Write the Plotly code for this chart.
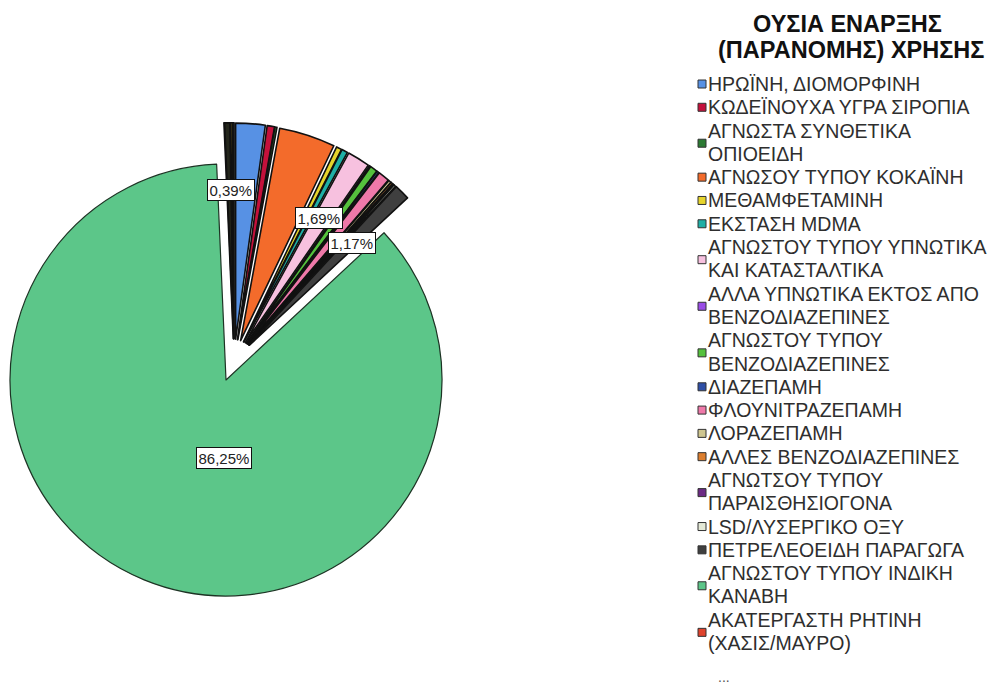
import math
import plotly.graph_objects as go

# ---------------- data ----------------
categories = [
    "ΗΡΩΪΝΗ, ΔΙΟΜΟΡΦΙΝΗ",
    "ΚΩΔΕΪΝΟΥΧΑ ΥΓΡΑ ΣΙΡΟΠΙΑ",
    "ΑΓΝΩΣΤΑ ΣΥΝΘΕΤΙΚΑ ΟΠΙΟΕΙΔΗ",
    "ΑΓΝΩΣΟΥ ΤΥΠΟΥ ΚΟΚΑΪΝΗ",
    "ΜΕΘΑΜΦΕΤΑΜΙΝΗ",
    "ΕΚΣΤΑΣΗ MDMA",
    "ΑΓΝΩΣΤΟΥ ΤΥΠΟΥ ΥΠΝΩΤΙΚΑ ΚΑΙ ΚΑΤΑΣΤΑΛΤΙΚΑ",
    "ΑΛΛΑ ΥΠΝΩΤΙΚΑ ΕΚΤΟΣ ΑΠΟ ΒΕΝΖΟΔΙΑΖΕΠΙΝΕΣ",
    "ΑΓΝΩΣΤΟΥ ΤΥΠΟΥ ΒΕΝΖΟΔΙΑΖΕΠΙΝΕΣ",
    "ΔΙΑΖΕΠΑΜΗ",
    "ΦΛΟΥΝΙΤΡΑΖΕΠΑΜΗ",
    "ΛΟΡΑΖΕΠΑΜΗ",
    "ΑΛΛΕΣ ΒΕΝΖΟΔΙΑΖΕΠΙΝΕΣ",
    "ΑΓΝΩΤΣΟΥ ΤΥΠΟΥ ΠΑΡΑΙΣΘΗΣΙΟΓΟΝΑ",
    "LSD/ΛΥΣΕΡΓΙΚΟ ΟΞΥ",
    "ΠΕΤΡΕΛΕΟΕΙΔΗ ΠΑΡΑΓΩΓΑ",
    "ΑΓΝΩΣΤΟΥ ΤΥΠΟΥ ΙΝΔΙΚΗ ΚΑΝΑΒΗ",
    "ΑΚΑΤΕΡΓΑΣΤΗ ΡΗΤΙΝΗ (ΧΑΣΙΣ/ΜΑΥΡΟ)",
    "ΛΟΙΠΕΣ ΟΥΣΙΕΣ (α)",   # categories hidden behind the legend's "..."
    "ΛΟΙΠΕΣ ΟΥΣΙΕΣ (β)",
    "ΛΟΙΠΕΣ ΟΥΣΙΕΣ (γ)",
]

percent = [2.20, 0.55, 0.15, 4.20, 0.40, 0.45, 1.69, 0.10, 0.55, 0.15,
           0.85, 0.20, 0.15, 0.10, 0.15, 1.17, 86.25, 0.03, 0.39, 0.14, 0.13]

colors = ["#5791e4", "#c4113b", "#2c7a33", "#f36b2b", "#e6d42c", "#1fafa6",
          "#f7c1df", "#9a4ce6", "#55c13d", "#2f4fa6", "#ef79a9", "#cfc68f",
          "#dc7e2e", "#6c2a84", "#e4e9d6", "#3f3f3f", "#5cc689", "#df432d",
          "#24261c", "#e2c42a", "#27322a"]

legend_wrap = [
    ["ΗΡΩΪΝΗ, ΔΙΟΜΟΡΦΙΝΗ"],
    ["ΚΩΔΕΪΝΟΥΧΑ ΥΓΡΑ ΣΙΡΟΠΙΑ"],
    ["ΑΓΝΩΣΤΑ ΣΥΝΘΕΤΙΚΑ", "ΟΠΙΟΕΙΔΗ"],
    ["ΑΓΝΩΣΟΥ ΤΥΠΟΥ ΚΟΚΑΪΝΗ"],
    ["ΜΕΘΑΜΦΕΤΑΜΙΝΗ"],
    ["ΕΚΣΤΑΣΗ MDMA"],
    ["ΑΓΝΩΣΤΟΥ ΤΥΠΟΥ ΥΠΝΩΤΙΚΑ", "ΚΑΙ ΚΑΤΑΣΤΑΛΤΙΚΑ"],
    ["ΑΛΛΑ ΥΠΝΩΤΙΚΑ ΕΚΤΟΣ ΑΠΟ", "ΒΕΝΖΟΔΙΑΖΕΠΙΝΕΣ"],
    ["ΑΓΝΩΣΤΟΥ ΤΥΠΟΥ", "ΒΕΝΖΟΔΙΑΖΕΠΙΝΕΣ"],
    ["ΔΙΑΖΕΠΑΜΗ"],
    ["ΦΛΟΥΝΙΤΡΑΖΕΠΑΜΗ"],
    ["ΛΟΡΑΖΕΠΑΜΗ"],
    ["ΑΛΛΕΣ ΒΕΝΖΟΔΙΑΖΕΠΙΝΕΣ"],
    ["ΑΓΝΩΤΣΟΥ ΤΥΠΟΥ", "ΠΑΡΑΙΣΘΗΣΙΟΓΟΝΑ"],
    ["LSD/ΛΥΣΕΡΓΙΚΟ ΟΞΥ"],
    ["ΠΕΤΡΕΛΕΟΕΙΔΗ ΠΑΡΑΓΩΓΑ"],
    ["ΑΓΝΩΣΤΟΥ ΤΥΠΟΥ ΙΝΔΙΚΗ", "ΚΑΝΑΒΗ"],
    ["ΑΚΑΤΕΡΓΑΣΤΗ ΡΗΤΙΝΗ", "(ΧΑΣΙΣ/ΜΑΥΡΟ)"],
]

legend_title = ["ΟΥΣΙΑ ΕΝΑΡΞΗΣ", "(ΠΑΡΑΝΟΜΗΣ) ΧΡΗΣΗΣ"]
main_slice = "ΑΓΝΩΣΤΟΥ ΤΥΠΟΥ ΙΝΔΙΚΗ ΚΑΝΑΒΗ"
# slices whose percentage is printed: (category, angle offset deg, radius fraction)
labelled = [("ΛΟΙΠΕΣ ΟΥΣΙΕΣ (α)", 0.8, 0.69),
            ("ΑΓΝΩΣΤΟΥ ΤΥΠΟΥ ΥΠΝΩΤΙΚΑ ΚΑΙ ΚΑΤΑΣΤΑΛΤΙΚΑ", -0.8, 0.67),
            ("ΠΕΤΡΕΛΕΟΕΙΔΗ ΠΑΡΑΓΩΓΑ", 0.0, 0.67)]

# ---------------- geometry / style ----------------
W, H = 993, 685
R = 216            # pie radius, px
CX, CY = 226, 380  # pie centre, px
EXPLODE = 42       # px offset of exploded slices
FONT = "Liberation Sans, Arial, sans-serif"
TRANSP = "rgba(0,0,0,0)"


def domain(cx, cy):
    return dict(x=[(cx - R) / W, (cx + R) / W],
                y=[1 - (cy + R) / H, 1 - (cy - R) / H])


def px2paper(x, y):
    return x / W, 1 - y / H


def fmt(v):
    return ("%.2f" % v).replace(".", ",") + "%"


total = sum(percent)
n = len(categories)
bis = []
cum = 0.0
for v in percent:
    b = 360.0 * (cum + v / 2) / total
    bis.append(b if b < 180 else b - 360)
    cum += v

main_idx = categories.index(main_slice)
exploded = [i for i in range(n) if i != main_idx]
bmin = min(bis[i] for i in exploded)
bmax = max(bis[i] for i in exploded)


def shift_dir(i):
    return 10 + (bis[i] - bmin) / (bmax - bmin) * 24


fig = go.Figure()


def add_pie(idx, cx, cy, lcol, lw):
    cols = [colors[k] if k == idx else TRANSP for k in range(n)]
    lws = [lw if k == idx else 0 for k in range(n)]
    fig.add_trace(go.Pie(
        labels=categories, values=percent, sort=False,
        direction="clockwise", rotation=0,
        marker=dict(colors=cols, line=dict(color=lcol, width=lws)),
        textinfo="none", hoverinfo="label+percent",
        domain=domain(cx, cy), showlegend=False))


# main (non exploded) slice
add_pie(main_idx, CX, CY, "#1d3324", 1.2)

centres = {}
for i in exploded:
    a = math.radians(shift_dir(i))
    cx = CX + EXPLODE * math.sin(a)
    cy = CY - EXPLODE * math.cos(a)
    centres[i] = (cx, cy)
    add_pie(i, cx, cy, "#111111", 1.6)

annotations = []
shapes = []

# percentage labels
lab_style = dict(xref="paper", yref="paper", showarrow=False,
                 xanchor="center", yanchor="middle",
                 bgcolor="white", bordercolor="#111111", borderwidth=1,
                 borderpad=1.5, font=dict(family=FONT, size=15, color="#222"))
for name, doff, frac in labelled:
    i = categories.index(name)
    cx, cy = centres[i]
    a = math.radians(bis[i] + doff)
    x, y = px2paper(cx + frac * R * math.sin(a), cy - frac * R * math.cos(a))
    annotations.append(dict(x=x, y=y, text=fmt(percent[i]), **lab_style))
# main slice label
a = math.radians(181.5)
x, y = px2paper(CX + 0.36 * R * math.sin(a), CY - 0.36 * R * math.cos(a))
annotations.append(dict(x=x, y=y, text=fmt(percent[main_idx]), **lab_style))

# ---------------- legend (manual) ----------------
title_y = [24, 50]
title_x = [847, 851]
for t, tx, ty in zip(legend_title, title_x, title_y):
    x, y = px2paper(tx, ty)
    annotations.append(dict(x=x, y=y, xref="paper", yref="paper", text="<b>%s</b>" % t,
                            showarrow=False, xanchor="center", yanchor="middle",
                            font=dict(family=FONT, size=23.5, color="#111")))

LINE0 = 84
STEP = (643 - 84) / 24.0
SQ = 8
line = 0
for k, lines in enumerate(legend_wrap):
    ys = []
    for t in lines:
        ly = LINE0 + STEP * line
        ys.append(ly)
        x, y = px2paper(706, ly)
        annotations.append(dict(x=x, y=y, xref="paper", yref="paper", text=t,
                                showarrow=False, xanchor="left", yanchor="middle",
                                font=dict(family=FONT, size=19.5, color="#2e2e2e")))
        line += 1
    sy = sum(ys) / len(ys) + (1 if len(ys) > 1 else 0)
    x0, y0 = px2paper(698, sy - SQ / 2)
    x1, y1 = px2paper(698 + SQ, sy + SQ / 2)
    shapes.append(dict(type="rect", xref="paper", yref="paper", x0=x0, x1=x1, y0=y0, y1=y1,
                       fillcolor=colors[categories.index(" ".join(lines))],
                       line=dict(color="#333", width=1)))

x, y = px2paper(724, 677)
annotations.append(dict(x=x, y=y, xref="paper", yref="paper", text="...",
                        showarrow=False, xanchor="center", yanchor="middle",
                        font=dict(family=FONT, size=14, color="#555")))

fig.update_layout(width=W, height=H, margin=dict(l=0, r=0, t=0, b=0),
                  paper_bgcolor="white", plot_bgcolor="white",
                  showlegend=False, annotations=annotations, shapes=shapes)

fig.write_html("out.html", config={"displayModeBar": False},
               post_script="document.body.style.margin='0';"
                           "document.body.style.overflow='hidden';")
